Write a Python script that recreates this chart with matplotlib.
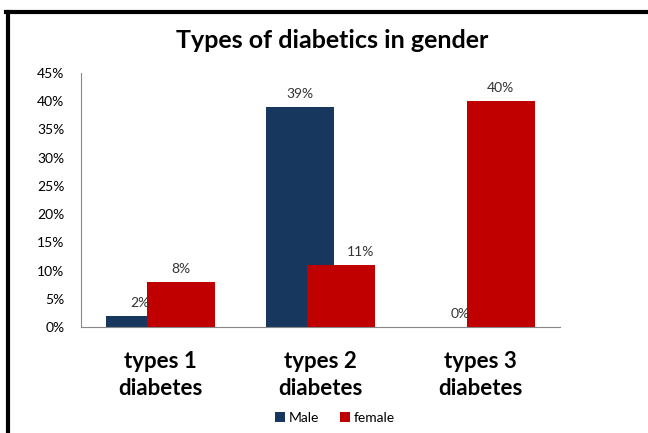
import matplotlib.pyplot as plt
import numpy as np
from matplotlib.lines import Line2D

categories = ['types 1\ndiabetes', 'types 2\ndiabetes', 'types 3\ndiabetes']
male = [2, 39, 0]
female = [8, 11, 40]
yticks = [0, 5, 10, 15, 20, 25, 30, 35, 40, 45]
# horizontal nudge of the female labels (Excel moves the clashing one)
female_label_dx = [0, 0.12, 0]

plt.rcParams['font.family'] = ['Lato', 'DejaVu Sans']

W, H = 648, 433
fig = plt.figure(figsize=(W / 100, H / 100), dpi=100)
ax = fig.add_axes([81 / W, 1 - 327 / H, (560 - 81) / W, (327 - 73) / H])

x = np.arange(len(categories))
bw = 0.426
off = 0.128
ax.bar(x - off, male, bw, color='#17375E', label='Male', zorder=2)
ax.bar(x + off, female, bw, color='#C00000', label='female', zorder=3)

for xi, v in zip(x - off, male):
    ax.text(xi, v + 1.2, f'{v}%', ha='center', va='bottom',
            fontsize=10, color='#333333', zorder=4)
for xi, v, dx in zip(x + off, female, female_label_dx):
    ax.text(xi + dx, v + 1.2, f'{v}%', ha='center', va='bottom',
            fontsize=10, color='#333333', zorder=4)

ax.set_xlim(-0.5, 2.5)
ax.set_ylim(0, 45)
ax.set_yticks(yticks)
ax.set_yticklabels([f'{t}%' for t in yticks], fontsize=10)
ax.set_xticks(x)
ax.set_xticklabels(categories, fontsize=16, fontweight='bold', linespacing=1.4)
ax.tick_params(axis='x', length=0, pad=17)
ax.tick_params(axis='y', length=0, pad=12)
for s in ['top', 'right']:
    ax.spines[s].set_visible(False)
ax.spines['left'].set_color('#888888')
ax.spines['bottom'].set_color('#888888')

fig.text(332 / W, 1 - 40 / H, 'Types of diabetics in gender', ha='center',
         va='center', fontsize=18, fontweight='bold')

fig.legend(loc='center', bbox_to_anchor=(335 / W, 1 - 418 / H), ncol=2,
           frameon=False, fontsize=10, handlelength=0.7, handleheight=0.7,
           columnspacing=1.5, handletextpad=0.3)

# outer frame
fig.add_artist(Line2D([7.5 / W, 7.5 / W], [0, 1 - 12 / H], color='black',
                      lw=3, transform=fig.transFigure))
fig.add_artist(Line2D([6 / W, 1], [1 - 12 / H, 1 - 12 / H], color='black',
                      lw=3, transform=fig.transFigure))

fig.savefig('out.png', dpi=100)
